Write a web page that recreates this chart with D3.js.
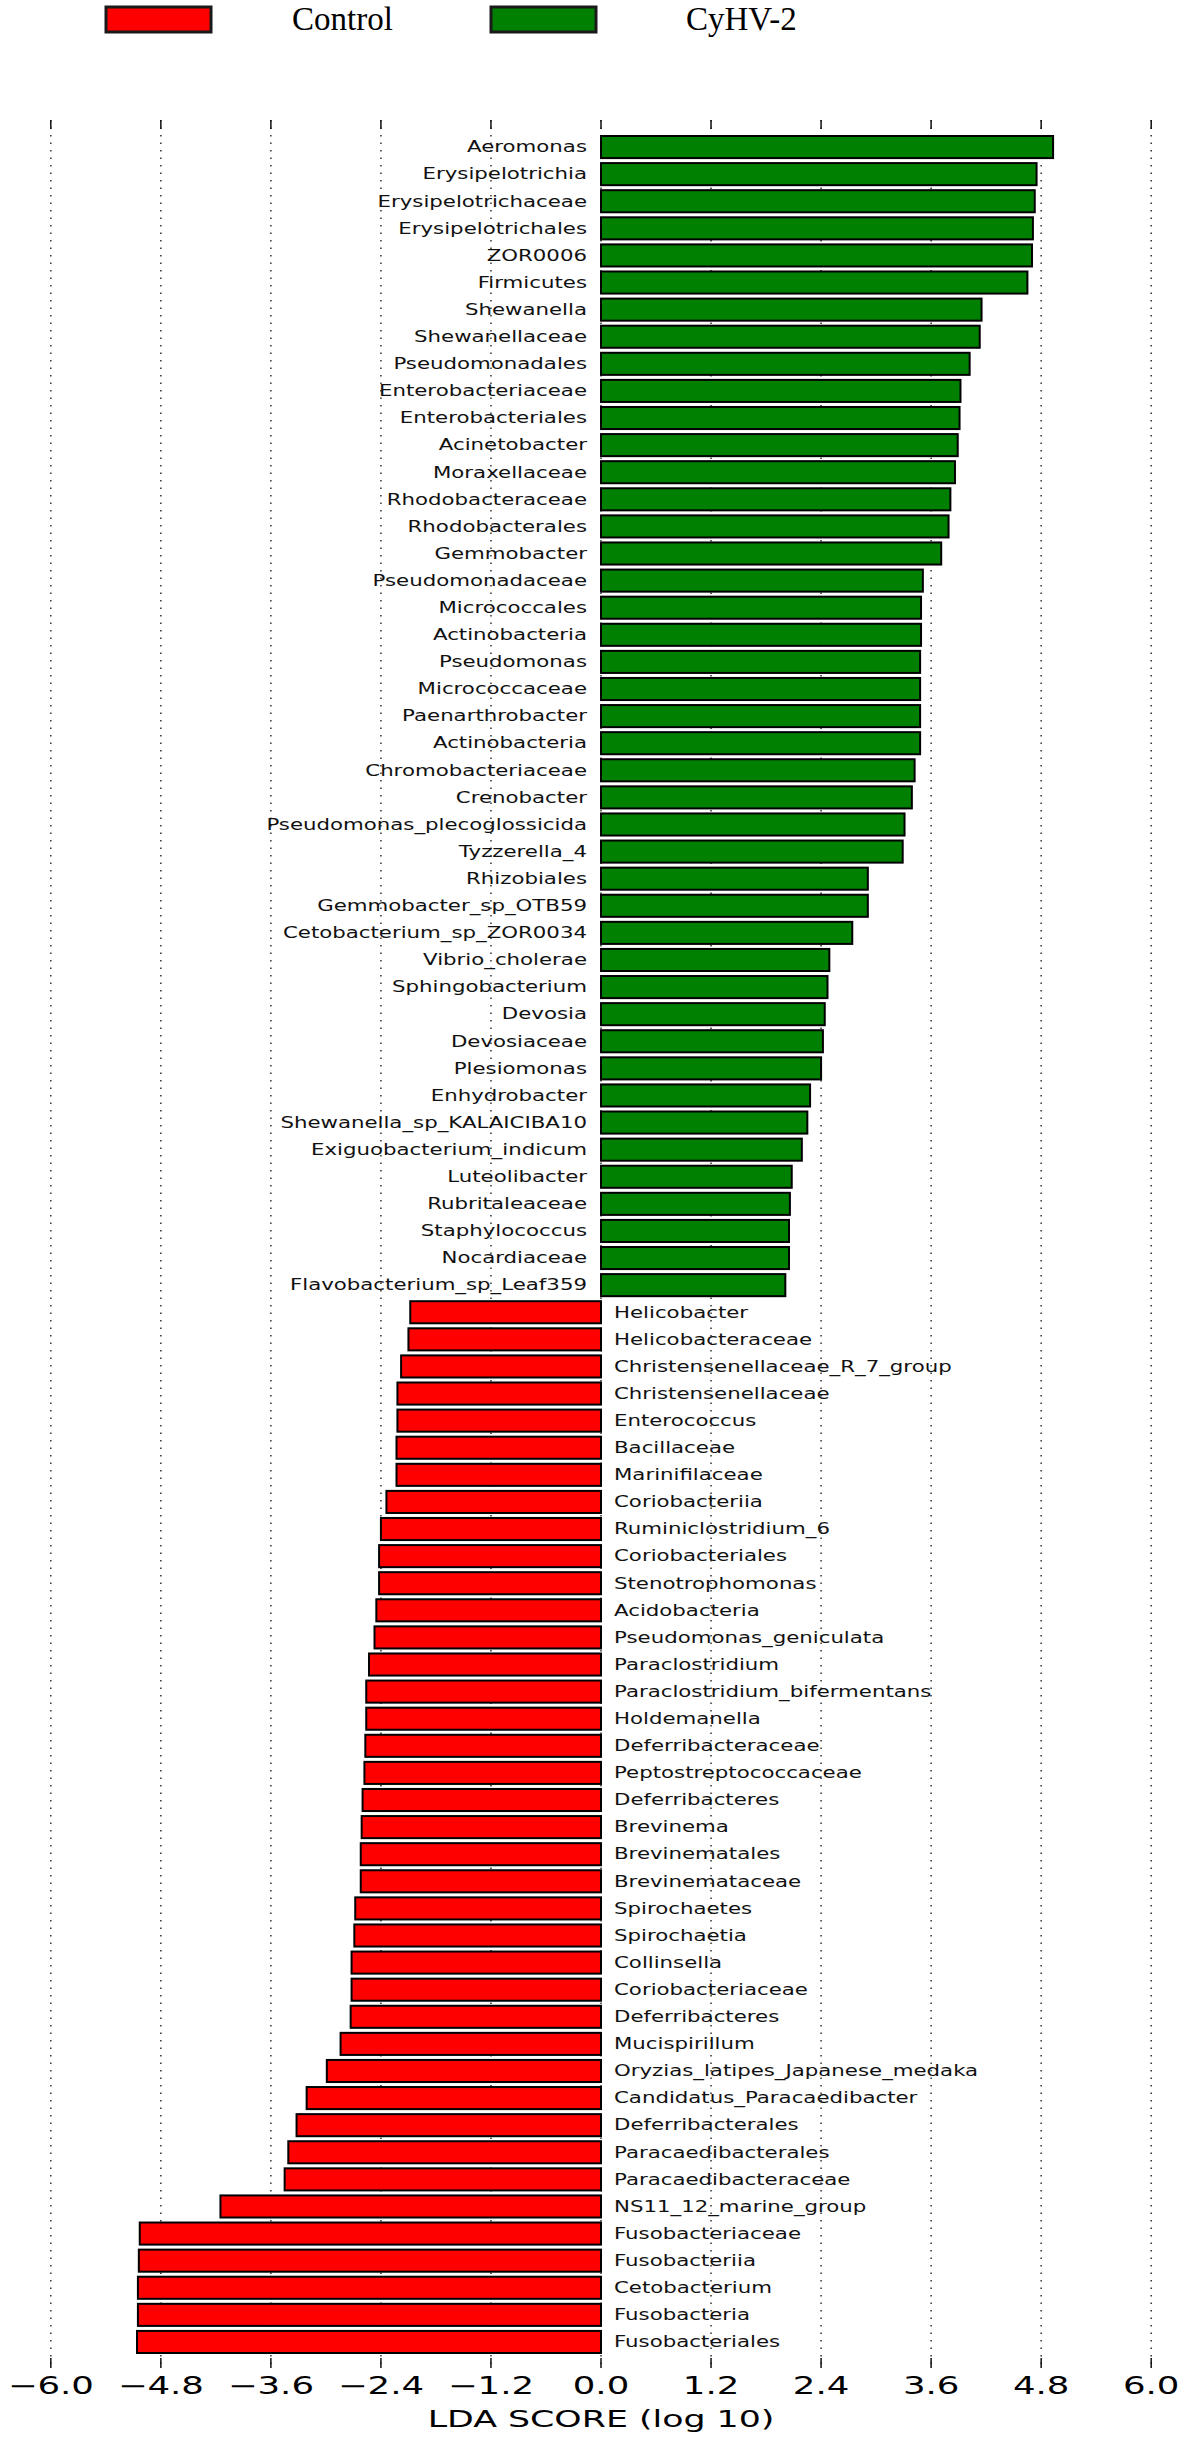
<!DOCTYPE html>
<html>
<head>
<meta charset="utf-8">
<script src="https://cdn.jsdelivr.net/npm/d3@7"></script>
<style>
  body { margin: 0; background: #fff; }
</style>
</head>
<body>
<div id="chart"></div>
<script>
/* DATA */
const taxa = [
  "Aeromonas", "Erysipelotrichia", "Erysipelotrichaceae", "Erysipelotrichales", "ZOR0006",
  "Firmicutes", "Shewanella", "Shewanellaceae", "Pseudomonadales", "Enterobacteriaceae",
  "Enterobacteriales", "Acinetobacter", "Moraxellaceae", "Rhodobacteraceae", "Rhodobacterales",
  "Gemmobacter", "Pseudomonadaceae", "Micrococcales", "Actinobacteria", "Pseudomonas",
  "Micrococcaceae", "Paenarthrobacter", "Actinobacteria", "Chromobacteriaceae", "Crenobacter",
  "Pseudomonas_plecoglossicida", "Tyzzerella_4", "Rhizobiales", "Gemmobacter_sp_OTB59", "Cetobacterium_sp_ZOR0034",
  "Vibrio_cholerae", "Sphingobacterium", "Devosia", "Devosiaceae", "Plesiomonas",
  "Enhydrobacter", "Shewanella_sp_KALAICIBA10", "Exiguobacterium_indicum", "Luteolibacter", "Rubritaleaceae",
  "Staphylococcus", "Nocardiaceae", "Flavobacterium_sp_Leaf359",
  "Helicobacter", "Helicobacteraceae", "Christensenellaceae_R_7_group", "Christensenellaceae", "Enterococcus",
  "Bacillaceae", "Marinifilaceae", "Coriobacteriia", "Ruminiclostridium_6", "Coriobacteriales",
  "Stenotrophomonas", "Acidobacteria", "Pseudomonas_geniculata", "Paraclostridium", "Paraclostridium_bifermentans",
  "Holdemanella", "Deferribacteraceae", "Peptostreptococcaceae", "Deferribacteres", "Brevinema",
  "Brevinematales", "Brevinemataceae", "Spirochaetes", "Spirochaetia", "Collinsella",
  "Coriobacteriaceae", "Deferribacteres", "Mucispirillum", "Oryzias_latipes_Japanese_medaka", "Candidatus_Paracaedibacter",
  "Deferribacterales", "Paracaedibacterales", "Paracaedibacteraceae", "NS11_12_marine_group", "Fusobacteriaceae",
  "Fusobacteriia", "Cetobacterium", "Fusobacteria", "Fusobacteriales"
];

const lda = [
  4.93, 4.75, 4.73, 4.71, 4.70,
  4.65, 4.15, 4.13, 4.02, 3.92,
  3.91, 3.89, 3.86, 3.81, 3.79,
  3.71, 3.51, 3.49, 3.49, 3.48,
  3.48, 3.48, 3.48, 3.42, 3.39,
  3.31, 3.29, 2.91, 2.91, 2.74,
  2.49, 2.47, 2.44, 2.42, 2.40,
  2.28, 2.25, 2.19, 2.08, 2.06,
  2.05, 2.05, 2.01,
  -2.08, -2.10, -2.18, -2.22, -2.22,
  -2.23, -2.23, -2.34, -2.40, -2.42,
  -2.42, -2.45, -2.47, -2.53, -2.56,
  -2.56, -2.57, -2.58, -2.60, -2.61,
  -2.62, -2.62, -2.68, -2.69, -2.72,
  -2.72, -2.73, -2.84, -2.99, -3.21,
  -3.32, -3.41, -3.45, -4.15, -5.03,
  -5.04, -5.05, -5.05, -5.06
];

const groups = ["Control", "CyHV-2"];
const groupColors = ["#ff0000", "#008000"];
const xTicks = [-6.0, -4.8, -3.6, -2.4, -1.2, 0.0, 1.2, 2.4, 3.6, 4.8, 6.0];

/* LAYOUT */
const width = 1182, height = 2440;
const plot = { top: 120, bottom: 2368, left: 50.8, right: 1151.2 };
const labelStretch = 1.42, tickStretch = 1.48;

const svg = d3.select("#chart").append("svg")
  .attr("width", width)
  .attr("height", height)
  .style("font-family", "'DejaVu Sans', sans-serif");

const x = d3.scaleLinear().domain([-6, 6]).range([plot.left, plot.right]);
const y = d3.scaleBand()
  .domain(d3.range(taxa.length))
  .range([136, 2353])
  .paddingInner(0.185)
  .paddingOuter(0);

const fmt = d3.format(".1f");

// dotted grid + tick marks
const grid = svg.append("g");
grid.selectAll("line.grid")
  .data(xTicks)
  .join("line")
  .attr("class", "grid")
  .attr("x1", d => x(d)).attr("x2", d => x(d))
  .attr("y1", plot.top).attr("y2", plot.bottom)
  .attr("stroke", "#333")
  .attr("stroke-width", 1.5)
  .attr("stroke-dasharray", "1.5,6");

grid.selectAll("line.ttop")
  .data(xTicks)
  .join("line")
  .attr("class", "ttop")
  .attr("x1", d => x(d)).attr("x2", d => x(d))
  .attr("y1", plot.top).attr("y2", plot.top + 9)
  .attr("stroke", "#111").attr("stroke-width", 1.5);

grid.selectAll("line.tbot")
  .data(xTicks)
  .join("line")
  .attr("class", "tbot")
  .attr("x1", d => x(d)).attr("x2", d => x(d))
  .attr("y1", plot.bottom - 10).attr("y2", plot.bottom)
  .attr("stroke", "#111").attr("stroke-width", 1.5);

// bars
svg.append("g")
  .selectAll("rect")
  .data(lda)
  .join("rect")
  .attr("x", d => x(Math.min(0, d)))
  .attr("width", d => Math.abs(x(d) - x(0)))
  .attr("y", (d, i) => y(i))
  .attr("height", y.bandwidth())
  .attr("fill", d => d > 0 ? groupColors[1] : groupColors[0])
  .attr("stroke", "#000")
  .attr("stroke-width", 2);

// bar labels
svg.append("g")
  .selectAll("g")
  .data(lda)
  .join("g")
  .attr("transform", (d, i) =>
    `translate(${d > 0 ? x(0) - 14 : x(0) + 13},${y(i) + y.bandwidth() / 2}) scale(${labelStretch},1)`)
  .append("text")
  .attr("text-anchor", d => d > 0 ? "end" : "start")
  .attr("dominant-baseline", "central")
  .attr("font-size", 15)
  .attr("fill", "#111")
  .text((d, i) => taxa[i]);

// tick labels
svg.append("g")
  .selectAll("g")
  .data(xTicks)
  .join("g")
  .attr("transform", d => `translate(${x(d)},2394) scale(${tickStretch},1)`)
  .append("text")
  .attr("text-anchor", "middle")
  .attr("font-size", 24)
  .attr("fill", "#000")
  .text(d => fmt(d));

// axis title
svg.append("g")
  .attr("transform", `translate(${x(0)},2427) scale(${tickStretch},1)`)
  .append("text")
  .attr("text-anchor", "middle")
  .attr("font-size", 23.5)
  .attr("fill", "#000")
  .text("LDA SCORE (log 10)");

// legend
const legendBoxes = [106, 491];
const legendText = [292, 686];
const legend = svg.append("g");
groups.forEach((g, i) => {
  legend.append("rect")
    .attr("x", legendBoxes[i]).attr("y", 7)
    .attr("width", 105).attr("height", 25)
    .attr("fill", groupColors[i])
    .attr("stroke", "#1a1a1a")
    .attr("stroke-width", 3);
  legend.append("text")
    .attr("x", legendText[i]).attr("y", 30)
    .attr("font-family", "'Liberation Serif', 'Times New Roman', serif")
    .attr("font-size", 33)
    .attr("fill", "#000")
    .text(g);
});
</script>
</body>
</html>
